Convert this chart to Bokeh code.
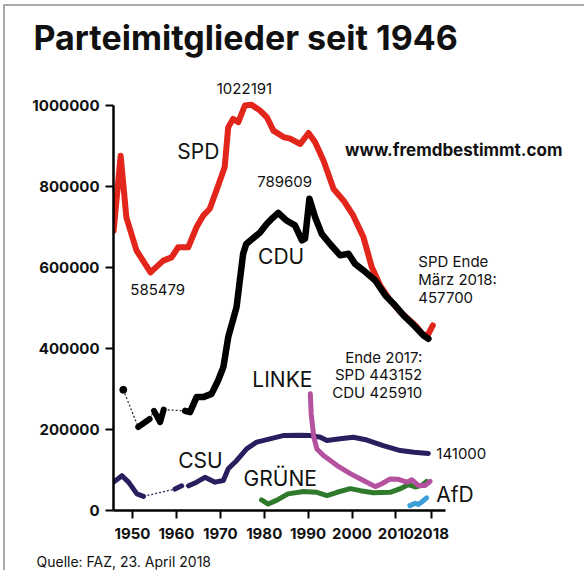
from bokeh.plotting import figure
from bokeh.models import Label, FixedTicker, BasicTickFormatter, Range1d, Title
from bokeh.embed import file_html
from bokeh.resources import INLINE

# ---------------- data ----------------
spd_years = [1945.7, 1947.3, 1948.6, 1950.9, 1954.1, 1957.0, 1958.9, 1960.4, 1962.7, 1964.6,
             1966.1, 1967.6, 1969.5, 1971.0, 1971.8, 1972.9, 1974.1, 1975.6, 1977.1, 1979.0,
             1980.6, 1982.1, 1984.4, 1985.9, 1988.2, 1990.1, 1991.6, 1993.5, 1995.8, 1998.1,
             2000.3, 2002.6, 2004.5, 2006.4, 2008.7, 2011.0, 2013.2, 2014.8, 2016.3, 2017.4, 2018.4]
spd_values = [691000, 876000, 724000, 642000, 588000, 617000, 625000, 650000, 650000, 700000,
              728000, 745000, 802000, 848000, 946000, 967000, 959000, 1000000, 1002000, 988000,
              971000, 938000, 922000, 918000, 905000, 932000, 909000, 864000, 794000, 765000,
              728000, 675000, 601000, 556000, 519000, 490000, 469000, 453000, 432000, 436000, 457000]

cdu_first_year = [1947.9]
cdu_first_value = [298000]
cdu_gap1_years = [1947.9, 1951.3]
cdu_gap1_values = [298000, 206000]
cdu_seg1_years = [1951.3, 1953.9]
cdu_seg1_values = [206000, 226000]
cdu_gap2_years = [1953.9, 1954.9]
cdu_gap2_values = [226000, 246000]
cdu_seg2_years = [1954.9, 1956.3, 1957.1]
cdu_seg2_values = [246000, 218000, 249000]
cdu_gap3_years = [1957.1, 1962.0]
cdu_gap3_values = [249000, 246000]
cdu_years = [1962.0, 1963.1, 1964.6, 1966.1, 1968.0, 1969.5, 1970.7, 1971.8, 1973.7, 1975.2,
             1975.9, 1979.0, 1980.6, 1981.5, 1983.2, 1985.1, 1987.0, 1988.6, 1989.3, 1990.3,
             1991.6, 1993.1, 1995.0, 1997.3, 1999.2, 2000.7, 2002.6, 2005.3, 2007.6, 2009.5,
             2011.8, 2014.1, 2016.3, 2017.4]
cdu_values = [246000, 243000, 280000, 280000, 288000, 321000, 354000, 428000, 502000, 634000,
              658000, 686000, 708000, 718000, 735000, 716000, 704000, 667000, 671000, 770000,
              724000, 683000, 658000, 630000, 634000, 609000, 593000, 568000, 531000, 510000,
              481000, 457000, 432000, 424000]

csu_seg1_years = [1945.7, 1947.6, 1949.1, 1951.0, 1952.5]
csu_seg1_values = [70000, 86000, 70000, 41000, 35000]
csu_gap1_years = [1952.5, 1959.7]
csu_gap1_values = [35000, 53000]
csu_seg2_years = [1959.7, 1961.2]
csu_seg2_values = [53000, 61000]
csu_gap2_years = [1961.2, 1962.8]
csu_gap2_values = [61000, 61000]
csu_years = [1962.8, 1964.6, 1966.5, 1968.8, 1970.7, 1971.8, 1973.7, 1976.0, 1978.3, 1981.3,
             1984.3, 1988.2, 1990.5, 1992.8, 1994.3, 1997.3, 2000.3, 2003.4, 2007.1, 2011.0,
             2014.1, 2017.4]
csu_values = [61000, 70000, 82000, 70000, 74000, 103000, 123000, 152000, 169000, 177000,
              185000, 186000, 185000, 181000, 173000, 177000, 181000, 174000, 160000, 148000,
              144000, 141000]

linke_years = [1990.5, 1990.7, 1991.3, 1992.0, 1993.5, 1996.6, 1999.6, 2002.6, 2005.3, 2006.8,
               2008.7, 2010.6, 2012.5, 2013.6, 2015.1, 2016.7, 2017.8]
linke_values = [288000, 239000, 181000, 152000, 136000, 111000, 91000, 74000, 59000, 66000,
                78000, 77000, 70000, 76000, 62000, 62000, 72000]

gruene_years = [1979.4, 1980.9, 1982.8, 1985.4, 1989.0, 1992.0, 1994.3, 1996.6, 1999.6, 2001.9,
                2004.9, 2008.7, 2011.0, 2012.9, 2014.4, 2015.9, 2017.0]
gruene_values = [26000, 16000, 25000, 41000, 47000, 45000, 37000, 45000, 54000, 49000,
                 44000, 45000, 54000, 64000, 58000, 62000, 72000]

afd_years = [2013.2, 2014.4, 2015.1, 2015.9, 2017.0]
afd_values = [12000, 18000, 15000, 21000, 31000]

x_ticks = [1950, 1960, 1970, 1980, 1990, 2000, 2010, 2018]
y_ticks = [0, 200000, 400000, 600000, 800000, 1000000]

# ---------------- figure ----------------
FONT = "Inter"
PX_PER_YEAR = 4.39
PX_PER_MEMBER = 405 / 1000000
X0 = 1945.67
W, H = 584, 570
LEFT, TOP, BOTTOM = 113, 57, 60
FRAME_W = W - LEFT
FRAME_H = H - TOP - BOTTOM
p = figure(width=W, height=H, output_backend="svg", toolbar_location=None,
           x_range=Range1d(X0, X0 + FRAME_W / PX_PER_YEAR),
           y_range=Range1d(0, FRAME_H / PX_PER_MEMBER),
           min_border_left=LEFT, min_border_right=0, min_border_top=TOP, min_border_bottom=BOTTOM,
           styles={"box-shadow": "inset 3px 4px 0 0 #ffffff, inset 5px 6px 0 0 #a9a9a9"})
p.outline_line_color = None
p.xgrid.visible = False
p.ygrid.visible = False
p.background_fill_color = "white"
p.border_fill_color = "white"
p.border_fill_alpha = 0

p.title.text = "Parteimitglieder seit 1946"
p.title.text_font = FONT
p.title.text_font_size = "34px"
p.title.text_font_style = "bold"
p.title.text_color = "#111111"
p.title.align = "left"
p.title.offset = -80
p.title.standoff = 0

p.add_layout(Title(text="Quelle: FAZ, 23. April 2018", text_font=FONT, text_font_size="14px",
                   text_font_style="normal", text_color="#111111", align="left",
                   offset=-77, standoff=0), "below")

for ax in (p.xaxis[0], p.yaxis[0]):
    ax.axis_line_width = 2.5
    ax.axis_line_color = "black"
    ax.major_tick_line_width = 2
    ax.major_tick_line_color = "black"
    ax.major_tick_in = 0
    ax.major_tick_out = 8
    ax.minor_tick_line_color = None
    ax.major_label_text_font = FONT
    ax.major_label_text_font_size = "15px"
    ax.major_label_text_font_style = "bold"
    ax.major_label_text_color = "#111111"

p.xaxis.ticker = FixedTicker(ticks=x_ticks)
p.yaxis.ticker = FixedTicker(ticks=y_ticks)
p.yaxis.formatter = BasicTickFormatter(use_scientific=False)
p.yaxis.bounds = (0, 1000000)
p.xaxis.bounds = (X0, 2021.3)
p.yaxis.major_label_standoff = 6
p.xaxis.major_label_standoff = 9
p.xaxis.axis_label = " "
p.xaxis.axis_label_text_font_size = "6px"
p.xaxis.axis_label_standoff = 0

# connectors
DOT = dict(line_dash="2 2", line_width=1.3, line_color="#333333")
p.line(cdu_gap1_years, cdu_gap1_values, **DOT)
p.line(cdu_gap2_years, cdu_gap2_values, **DOT)
p.line(cdu_gap3_years, cdu_gap3_values, **DOT)
p.line(csu_gap1_years, csu_gap1_values, line_dash="2 2", line_width=1.3, line_color="#2a1f5e")
p.line(csu_gap2_years, csu_gap2_values, line_dash="2 2", line_width=1.3, line_color="#2a1f5e")

LW = dict(line_cap="round", line_join="round")
CSU_C = "#2a1f5e"
p.line(csu_seg1_years, csu_seg1_values, line_color=CSU_C, line_width=5, **LW)
p.line(csu_seg2_years, csu_seg2_values, line_color=CSU_C, line_width=5, **LW)
p.line(csu_years, csu_values, line_color=CSU_C, line_width=5, **LW)
p.line(gruene_years, gruene_values, line_color="#2f7a2b", line_width=5, **LW)
p.line(linke_years, linke_values, line_color="#b4529f", line_width=5, **LW)
p.line(afd_years, afd_values, line_color="#3c9fd9", line_width=5, **LW)
p.line(spd_years, spd_values, line_color="#e3261c", line_width=6, **LW)
p.line(cdu_seg1_years, cdu_seg1_values, line_color="black", line_width=6, **LW)
p.line(cdu_seg2_years, cdu_seg2_values, line_color="black", line_width=6, **LW)
p.line(cdu_years, cdu_values, line_color="black", line_width=6.5, **LW)
p.scatter(cdu_first_year, cdu_first_value, size=7, color="black")


def lab(x, y, text, size="15px", align="left", style="normal", color="#111111"):
    p.add_layout(Label(x=x, y=y, text=text, text_font=FONT, text_font_size=size,
                       text_font_style=style, text_align=align, text_baseline="middle",
                       text_color=color))


lab(1975.5, 1042000, "1022191", align="center")
lab(1949.5, 545700, "585479")
lab(1978.4, 812300, "789609")
lab(1960.2, 886400, "SPD", size="21px")
lab(1978.6, 627100, "CDU", size="21px")
lab(1977.3, 323500, "LINKE", size="21px")
lab(1960.4, 123500, "CSU", size="21px")
lab(1975.3, 79000, "GRÜNE", size="21px")
lab(2019.2, 39500, "AfD", size="21px")
lab(2019.2, 140700, "141000")
lab(1998.4, 888900, "www.fremdbestimmt.com", size="17px", style="bold")
lab(2015.1, 614800, "SPD Ende")
lab(2015.1, 570400, "März 2018:")
lab(2015.1, 525900, "457700")
lab(2016.0, 377800, "Ende 2017:", align="right")
lab(2016.0, 335800, "SPD 443152", align="right")
lab(2016.0, 291400, "CDU 425910", align="right")

open("out.html", "w").write(file_html(p, INLINE))
